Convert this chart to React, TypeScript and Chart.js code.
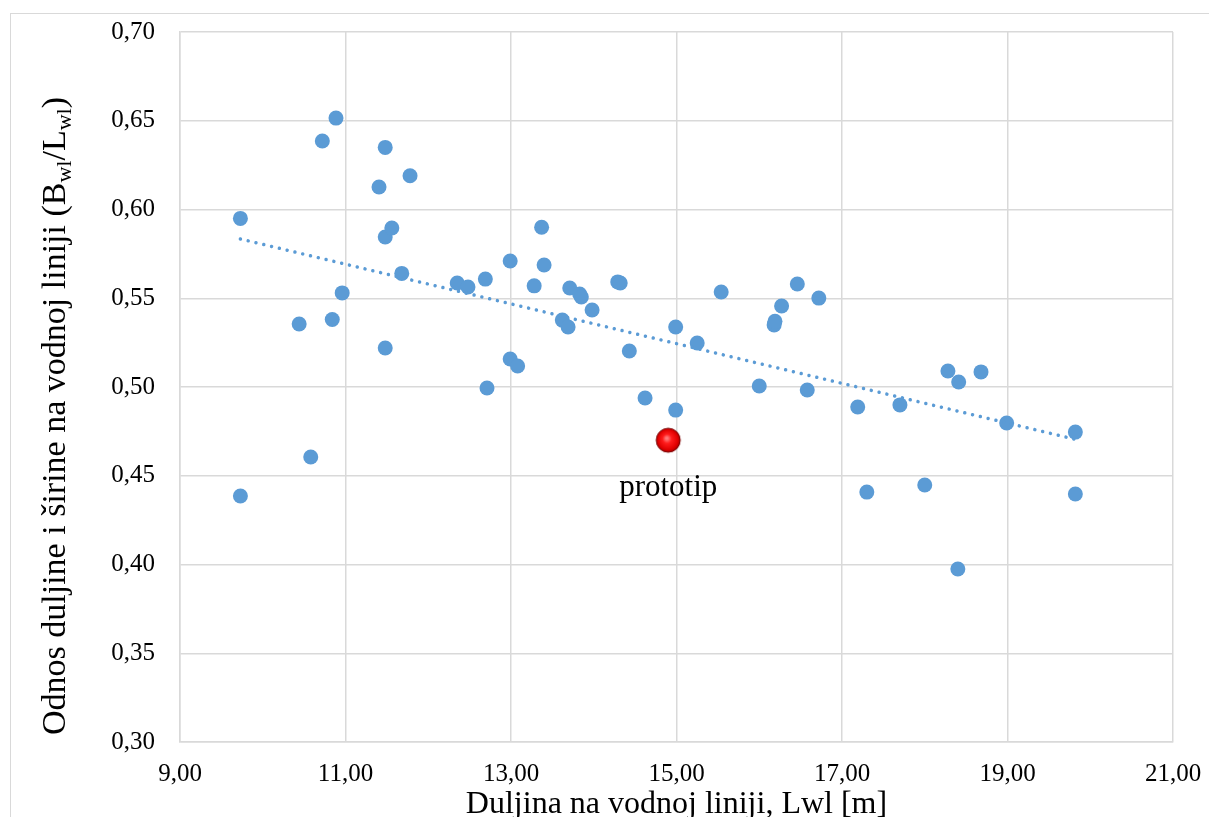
import React, { useEffect, useRef } from "react";
import { Chart, registerables } from "chart.js";

Chart.register(...registerables);

const lwl: number[] = [
  9.73, 9.73, 10.44, 10.58, 10.72, 10.885, 10.84, 10.96, 11.405, 11.48,
  11.48, 11.56, 11.48, 11.68, 11.78, 12.35, 12.48, 12.69, 12.71, 12.99,
  12.99, 13.08, 13.28, 13.37, 13.4, 13.62, 13.69, 13.71, 13.83, 13.85,
  13.98, 14.29, 14.32, 14.43, 14.62, 14.99, 14.99, 15.25, 15.54, 16.0,
  16.18, 16.19, 16.27, 16.46, 16.58, 16.72, 17.19, 17.3, 17.7, 18.0,
  18.28, 18.4, 18.41, 18.68, 18.99, 19.82, 19.82,
];
const ratio: number[] = [
  0.595, 0.4386, 0.5355, 0.4606, 0.6386, 0.6515, 0.538, 0.553, 0.6127, 0.635,
  0.5845, 0.5896, 0.522, 0.564, 0.619, 0.5586, 0.5563, 0.5608, 0.4994, 0.571,
  0.5158, 0.5118, 0.557, 0.59, 0.5687, 0.5377, 0.5338, 0.5558, 0.5524, 0.5507,
  0.5434, 0.5592, 0.5586, 0.5203, 0.4938, 0.5338, 0.487, 0.5248, 0.5535, 0.5006,
  0.535, 0.537, 0.5456, 0.558, 0.4983, 0.5501, 0.4887, 0.4408, 0.4899, 0.4448,
  0.509, 0.3975, 0.5028, 0.5085, 0.4797, 0.4746, 0.4397,
];
const trendX: number[] = [9.73, 19.82];
const trendY: number[] = [0.5834, 0.4705];
const prototipX: number[] = [14.9];
const prototipY: number[] = [0.47];
const prototipLabel = "prototip";
const xTitle = "Duljina na vodnoj liniji, Lwl [m]";
const xMin = 9, xMax = 21, xStep = 2;
const yMin = 0.3, yMax = 0.7, yStep = 0.05;

const FONT = "'Liberation Serif', 'Times New Roman', serif";
const BLUE = "#5B9BD5";
const GRID = "#d9d9d9";

function makeRedMarker(): HTMLCanvasElement {
  const c = document.createElement("canvas");
  c.width = 28;
  c.height = 28;
  const g = c.getContext("2d")!;
  const grad = g.createRadialGradient(12.5, 12, 1, 14, 14, 13);
  grad.addColorStop(0, "#ff7a7a");
  grad.addColorStop(0.3, "#ff1c1c");
  grad.addColorStop(0.75, "#e00000");
  grad.addColorStop(1, "#8c0000");
  g.beginPath();
  g.arc(14, 14, 12, 0, Math.PI * 2);
  g.fillStyle = grad;
  g.fill();
  g.lineWidth = 1;
  g.strokeStyle = "#7a0000";
  g.stroke();
  return c;
}

const fmt = (v: number) => v.toFixed(2).replace(".", ",");

export default function App() {
  const ref = useRef<HTMLCanvasElement | null>(null);

  useEffect(() => {
    if (!ref.current) return;
    const redMarker = makeRedMarker();

    const decor = {
      id: "decor",
      beforeDraw(chart: any) {
        const ctx = chart.ctx;
        ctx.save();
        ctx.strokeStyle = GRID;
        ctx.lineWidth = 1;
        ctx.strokeRect(10.5, 13.5, 1300, 900);
        ctx.restore();
      },
      afterDatasetsDraw(chart: any) {
        const ctx = chart.ctx;
        const xs = chart.scales.x;
        const ys = chart.scales.y;
        ctx.save();
        ctx.fillStyle = "#000";
        ctx.font = `31px ${FONT}`;
        ctx.textAlign = "center";
        ctx.textBaseline = "alphabetic";
        ctx.fillText(prototipLabel, xs.getPixelForValue(prototipX[0]), ys.getPixelForValue(prototipY[0]) + 56);
        ctx.restore();
      },
      afterDraw(chart: any) {
        const ctx = chart.ctx;
        const area = chart.chartArea;
        ctx.save();
        ctx.fillStyle = "#000";
        ctx.font = `32px ${FONT}`;
        ctx.textAlign = "center";
        ctx.textBaseline = "alphabetic";
        ctx.fillText(xTitle, (area.left + area.right) / 2, 813);
        const big = `34px ${FONT}`;
        const small = `22px ${FONT}`;
        const parts: [string, boolean][] = [
          ["Odnos duljine i širine na vodnoj liniji (B", false],
          ["wl", true],
          ["/L", false],
          ["wl", true],
          [")", false],
        ];
        let total = 0;
        const widths = parts.map(([t, sub]) => {
          ctx.font = sub ? small : big;
          const w = ctx.measureText(t).width;
          total += w;
          return w;
        });
        ctx.translate(65, 416);
        ctx.rotate(-Math.PI / 2);
        ctx.textAlign = "left";
        let x = -total / 2;
        parts.forEach(([t, sub], i) => {
          ctx.font = sub ? small : big;
          ctx.fillText(t, x, sub ? 6 : 0);
          x += widths[i];
        });
        ctx.restore();
      },
    };

    const chart = new Chart(ref.current, {
      type: "scatter",
      data: {
        datasets: [
          {
            label: "prototip",
            data: prototipX.map((x, i) => ({ x, y: prototipY[i] })),
            pointStyle: redMarker as any,
            pointRadius: 13,
            order: 0,
          },
          {
            label: "trend",
            data: trendX.map((x, i) => ({ x, y: trendY[i] })),
            showLine: true,
            borderColor: BLUE,
            borderWidth: 3.5,
            borderDash: [0.01, 8],
            borderCapStyle: "round",
            pointRadius: 0,
            order: 1,
          } as any,
          {
            label: "data",
            data: lwl.map((x, i) => ({ x, y: ratio[i] })),
            backgroundColor: BLUE,
            borderColor: BLUE,
            borderWidth: 0,
            pointRadius: 7.5,
            order: 2,
          },
        ],
      },
      options: {
        animation: false,
        responsive: false,
        layout: { padding: { top: 32, right: 36, left: 0, bottom: 0 } },
        plugins: {
          legend: { display: false },
          tooltip: { enabled: false },
        },
        scales: {
          x: {
            type: "linear",
            min: xMin,
            max: xMax,
            afterFit: (s: any) => {
              s.height = 75;
              s.paddingLeft = 0;
              s.paddingRight = 0;
            },
            grid: { color: GRID, lineWidth: 1.5, drawTicks: false },
            border: { color: GRID, width: 1.5 },
            ticks: {
              stepSize: xStep,
              padding: 17,
              color: "#000",
              font: { family: FONT, size: 25 },
              callback: (v: any) => fmt(Number(v)),
            },
          },
          y: {
            type: "linear",
            min: yMin,
            max: yMax,
            afterFit: (s: any) => {
              s.width = 180;
              s.paddingTop = 0;
              s.paddingBottom = 0;
            },
            grid: { color: GRID, lineWidth: 1.5, drawTicks: false },
            border: { color: GRID, width: 1.5 },
            ticks: {
              stepSize: yStep,
              padding: 25,
              color: "#000",
              font: { family: FONT, size: 25 },
              callback: (v: any) => fmt(Number(v)),
            },
          },
        },
      },
      plugins: [decor],
    });
    return () => chart.destroy();
  }, []);

  return (
    <div style={{ position: "absolute", left: 0, top: 0, width: 1209, height: 817, background: "#fff" }}>
      <canvas ref={ref} width={1209} height={817} style={{ display: "block" }} />
    </div>
  );
}
